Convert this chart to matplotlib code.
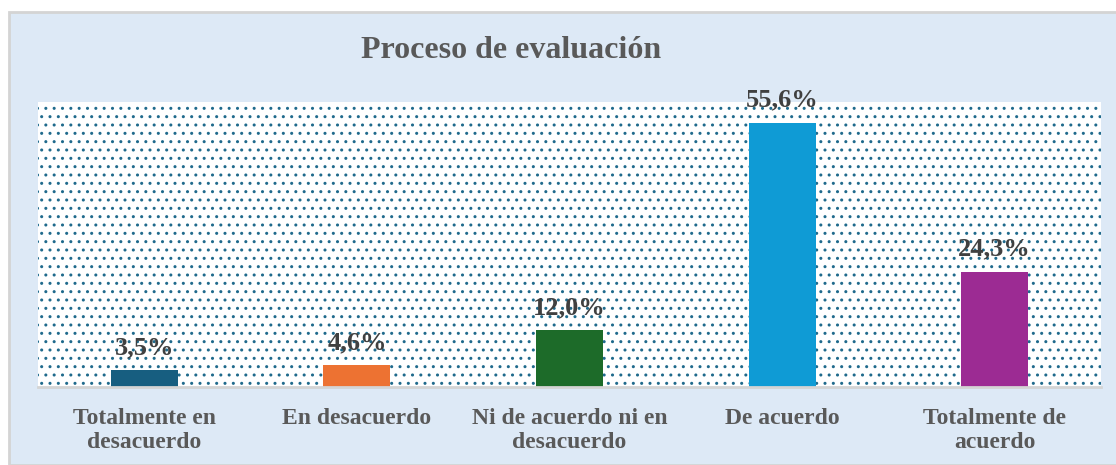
import matplotlib.pyplot as plt
import matplotlib.patches as patches

categorias = ["Totalmente en\ndesacuerdo", "En desacuerdo", "Ni de acuerdo ni en\ndesacuerdo",
              "De acuerdo", "Totalmente de\nacuerdo"]
porcentajes = [3.5, 4.6, 12.0, 55.6, 24.3]
etiquetas = ["3,5%", "4,6%", "12,0%", "55,6%", "24,3%"]
colores = ["#175e80", "#ed7232", "#1d6b29", "#0f9bd5", "#9c2b93"]

plt.rcParams['font.family'] = ['Liberation Serif', 'DejaVu Serif']

W, H = 1116, 465
fig = plt.figure(figsize=(W / 100, H / 100), dpi=100)
fig.patch.set_facecolor("white")

# light blue chart frame
fondo = patches.Rectangle((9 / W, 0), 1 - 9 / W + 0.01, (H - 12) / H, transform=fig.transFigure,
                          facecolor="#dde9f6", edgecolor="#d4d4d4", linewidth=2, zorder=-10)
fig.add_artist(fondo)

ax = fig.add_axes([38 / W, (H - 387) / H, 1063 / W, 285 / H])
ax.set_facecolor("white")
puntos = patches.Rectangle((0, 0), 1, 1, transform=ax.transAxes, facecolor="none",
                           edgecolor="#1f6a8c", hatch="..", linewidth=0, zorder=0)
ax.add_patch(puntos)

x = range(len(categorias))
ax.bar(x, porcentajes, width=0.315, color=colores, zorder=2)
for xi, v, t in zip(x, porcentajes, etiquetas):
    ax.text(xi, v + 3.4, t, ha="center", va="baseline", fontsize=19, fontweight="bold",
            color="#404040", zorder=3, clip_on=False)

ax.set_xlim(-0.5, 4.5)
ax.set_ylim(0, 60)
ax.set_yticks([])
ax.set_xticks(list(x))
ax.set_xticklabels(categorias, fontsize=17, fontweight="bold", color="#595959")
ax.tick_params(axis="x", length=0, pad=15)
for s in ["top", "left", "right"]:
    ax.spines[s].set_visible(False)
ax.spines["bottom"].set_color("#d4d4d4")
ax.spines["bottom"].set_linewidth(2)

fig.text(511 / W, 1 - 50 / H, "Proceso de evaluación", ha="center", va="center",
         fontsize=23, fontweight="bold", color="#595959")

fig.savefig("out.png", dpi=100)
